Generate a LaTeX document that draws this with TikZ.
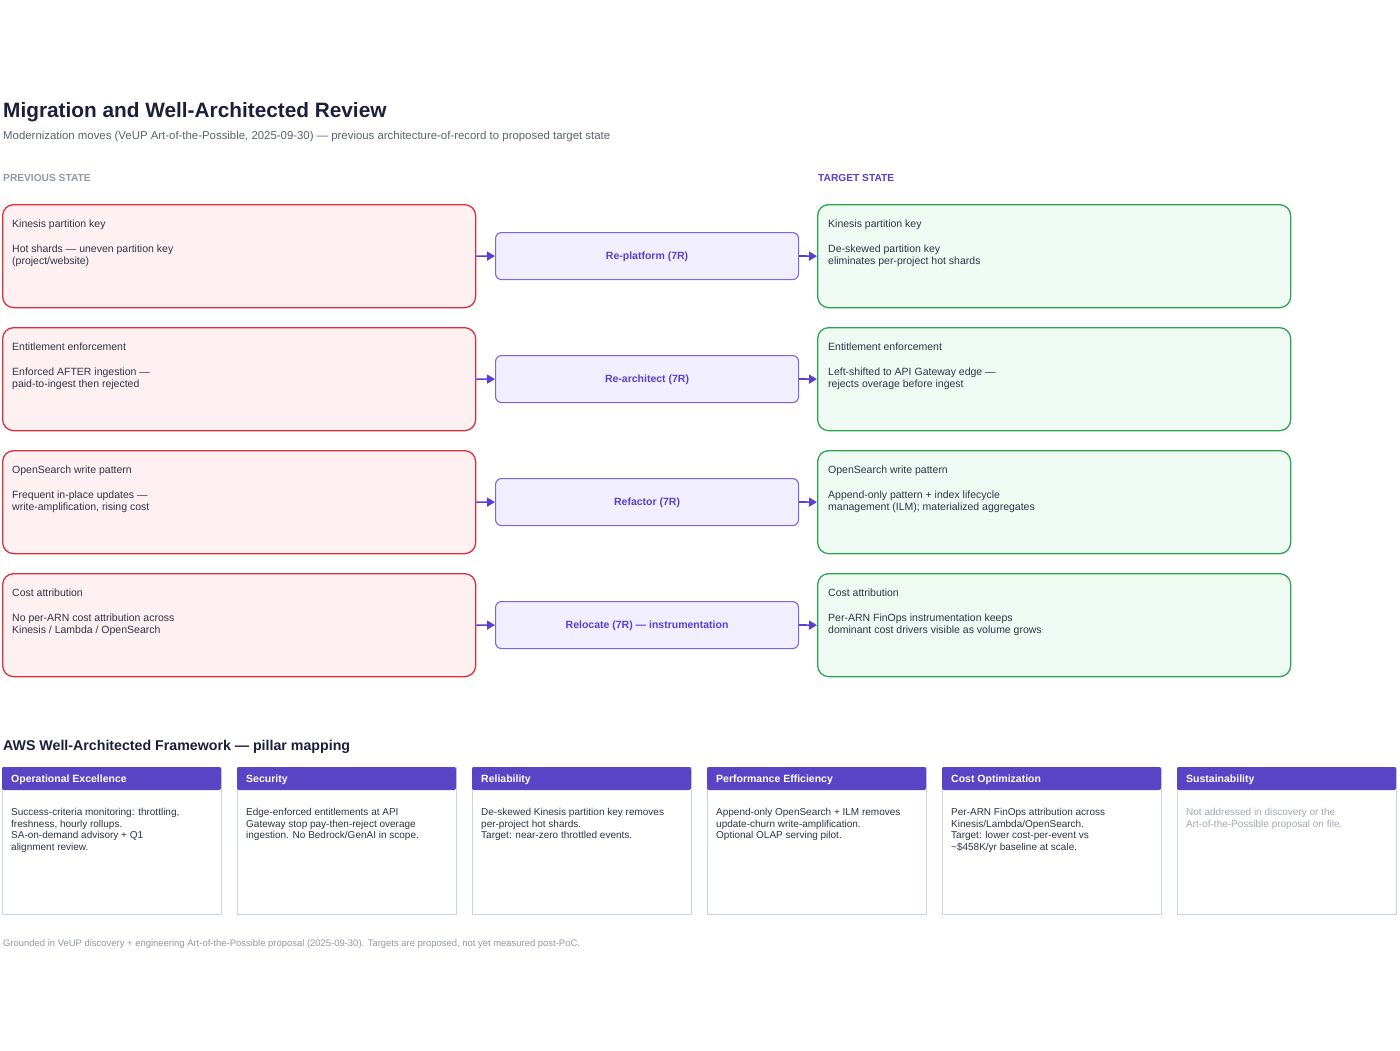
\documentclass[tikz,border=0pt]{standalone}
\usepackage{fontspec}
\setmainfont{Liberation Sans}
\usetikzlibrary{arrows.meta}
\definecolor{titlec}{HTML}{1B1F3B}
\definecolor{bodyc}{HTML}{2D3348}
\definecolor{subc}{HTML}{5B6275}
\definecolor{lblc}{HTML}{9398AB}
\definecolor{purp}{HTML}{5A3FD0}
\definecolor{hdrf}{HTML}{5944C6}
\definecolor{redc}{HTML}{DC2F3A}
\definecolor{redf}{HTML}{FFF1F1}
\definecolor{grnc}{HTML}{2DA44E}
\definecolor{grnf}{HTML}{EFFBF2}
\definecolor{midf}{HTML}{F1EEFD}
\definecolor{midc}{HTML}{7A66DD}
\definecolor{cardc}{HTML}{C9D2E6}
\definecolor{mutedc}{HTML}{A3A8B8}
\tikzset{
  prevbox/.style={draw=redc, fill=redf, line width=1.3pt, rounded corners=11pt, minimum width=473pt, minimum height=103pt, anchor=north west, inner sep=0pt},
  tgtbox/.style={draw=grnc, fill=grnf, line width=1.3pt, rounded corners=11pt, minimum width=473pt, minimum height=103pt, anchor=north west, inner sep=0pt},
  movebox/.style={draw=midc, fill=midf, line width=1.1pt, rounded corners=6pt, minimum width=303pt, minimum height=47pt, anchor=north west, inner sep=0pt},
  movetext/.style={font=\fontsize{10.5}{12}\selectfont\bfseries, text=purp, inner sep=0pt},
  boxtext/.style={anchor=north west, align=left, font=\fontsize{10.5}{12.3}\selectfont, text=bodyc, inner sep=0pt},
  flow/.style={draw=purp, line width=1.7pt, -{Triangle[length=8pt,width=9pt]}},
  cardbox/.style={draw=cardc, fill=white, line width=1pt, minimum width=219pt, minimum height=147pt, anchor=north west, inner sep=0pt},
  cardhead/.style={fill=hdrf, rounded corners=2pt},
  cardtitle/.style={anchor=west, font=\fontsize{10.5}{12}\selectfont\bfseries, text=white, inner sep=0pt},
  cardtext/.style={anchor=north west, align=left, font=\fontsize{10}{11.7}\selectfont, text=bodyc, inner sep=0pt},
}
\newcommand\pillarcard[5]{%
  \node[cardbox] (#1) at (#2,767) {};
  \path[cardhead] (#2,790) -- (#2,767) -- ++(219,0) -- ++(0,23) -- cycle;
  \node[cardtitle] (#1h) at (#2+9,779.5) {#3};
  \node[cardtext, text=#5] (#1b) at (#2+9,808) {#4};
}
\begin{document}
\begin{tikzpicture}[x=1pt,y=-1pt]
\path[use as bounding box, fill=white] (0,0) rectangle (1400,1050);

% headings
\node[anchor=base west, inner sep=0pt, font=\fontsize{20.8}{24}\selectfont\bfseries, text=titlec] (title) at (3,117) {Migration and Well-Architected Review};
\node[anchor=base west, inner sep=0pt, font=\fontsize{11.4}{14}\selectfont, text=subc] (subtitle) at (3,139) {Modernization moves (VeUP Art-of-the-Possible, 2025-09-30) — previous architecture-of-record to proposed target state};
\node[anchor=base west, inner sep=0pt, font=\fontsize{10.2}{12}\selectfont\bfseries, text=lblc] (prevlbl) at (3,181) {PREVIOUS STATE};
\node[anchor=base west, inner sep=0pt, font=\fontsize{10.2}{12}\selectfont\bfseries, text=purp] (tgtlbl) at (818,181) {TARGET STATE};

% row 1
\node[prevbox] (p1) at (2,204) {};
\node[movebox] (m1) at (495,232) {};
\node[tgtbox] (t1) at (817,204) {};
\node[boxtext] (p1x) at (12,220) {Kinesis partition key\\[12.5pt]Hot shards — uneven partition key\\(project/website)};
\node[boxtext] (t1x) at (828,220) {Kinesis partition key\\[12.5pt]De-skewed partition key\\eliminates per-project hot shards};
\node[movetext] (m1x) at ([yshift=-1pt]m1.center) {Re-platform (7R)};

% row 2
\node[prevbox] (p2) at (2,327) {};
\node[movebox] (m2) at (495,355) {};
\node[tgtbox] (t2) at (817,327) {};
\node[boxtext] (p2x) at (12,343) {Entitlement enforcement\\[12.5pt]Enforced AFTER ingestion —\\paid-to-ingest then rejected};
\node[boxtext] (t2x) at (828,343) {Entitlement enforcement\\[12.5pt]Left-shifted to API Gateway edge —\\rejects overage before ingest};
\node[movetext] (m2x) at ([yshift=-1pt]m2.center) {Re-architect (7R)};

% row 3
\node[prevbox] (p3) at (2,450) {};
\node[movebox] (m3) at (495,478) {};
\node[tgtbox] (t3) at (817,450) {};
\node[boxtext] (p3x) at (12,466) {OpenSearch write pattern\\[12.5pt]Frequent in-place updates —\\write-amplification, rising cost};
\node[boxtext] (t3x) at (828,466) {OpenSearch write pattern\\[12.5pt]Append-only pattern + index lifecycle\\management (ILM); materialized aggregates};
\node[movetext] (m3x) at ([yshift=-1pt]m3.center) {Refactor (7R)};

% row 4
\node[prevbox] (p4) at (2,573) {};
\node[movebox] (m4) at (495,601) {};
\node[tgtbox] (t4) at (817,573) {};
\node[boxtext] (p4x) at (12,589) {Cost attribution\\[12.5pt]No per-ARN cost attribution across\\Kinesis / Lambda / OpenSearch};
\node[boxtext] (t4x) at (828,589) {Cost attribution\\[12.5pt]Per-ARN FinOps instrumentation keeps\\dominant cost drivers visible as volume grows};
\node[movetext] (m4x) at ([yshift=-1pt]m4.center) {Relocate (7R) — instrumentation};

% connectors
\foreach \i in {1,2,3,4}{
  \draw[flow] (p\i.east) -- (m\i.west);
  \draw[flow] (m\i.east) -- (t\i.west);
}

% pillar mapping
\node[anchor=base west, inner sep=0pt, font=\fontsize{14.2}{17}\selectfont\bfseries, text=titlec] (waf) at (3,750.5) {AWS Well-Architected Framework — pillar mapping};

\pillarcard{c1}{2}{Operational Excellence}{Success-criteria monitoring: throttling,\\freshness, hourly rollups.\\SA-on-demand advisory + Q1\\alignment review.}{bodyc}
\pillarcard{c2}{237}{Security}{Edge-enforced entitlements at API\\Gateway stop pay-then-reject overage\\ingestion. No Bedrock/GenAI in scope.}{bodyc}
\pillarcard{c3}{472}{Reliability}{De-skewed Kinesis partition key removes\\per-project hot shards.\\Target: near-zero throttled events.}{bodyc}
\pillarcard{c4}{707}{Performance Efficiency}{Append-only OpenSearch + ILM removes\\update-churn write-amplification.\\Optional OLAP serving pilot.}{bodyc}
\pillarcard{c5}{942}{Cost Optimization}{Per-ARN FinOps attribution across\\Kinesis/Lambda/OpenSearch.\\Target: lower cost-per-event vs\\\textasciitilde\$458K/yr baseline at scale.}{bodyc}
\pillarcard{c6}{1177}{Sustainability}{Not addressed in discovery or the\\Art-of-the-Possible proposal on file.}{mutedc}

% footer
\node[anchor=base west, inner sep=0pt, font=\fontsize{9.45}{11}\selectfont, text=lblc] (footer) at (3,946) {Grounded in VeUP discovery + engineering Art-of-the-Possible proposal (2025-09-30). Targets are proposed, not yet measured post-PoC.};
\end{tikzpicture}
\end{document}
